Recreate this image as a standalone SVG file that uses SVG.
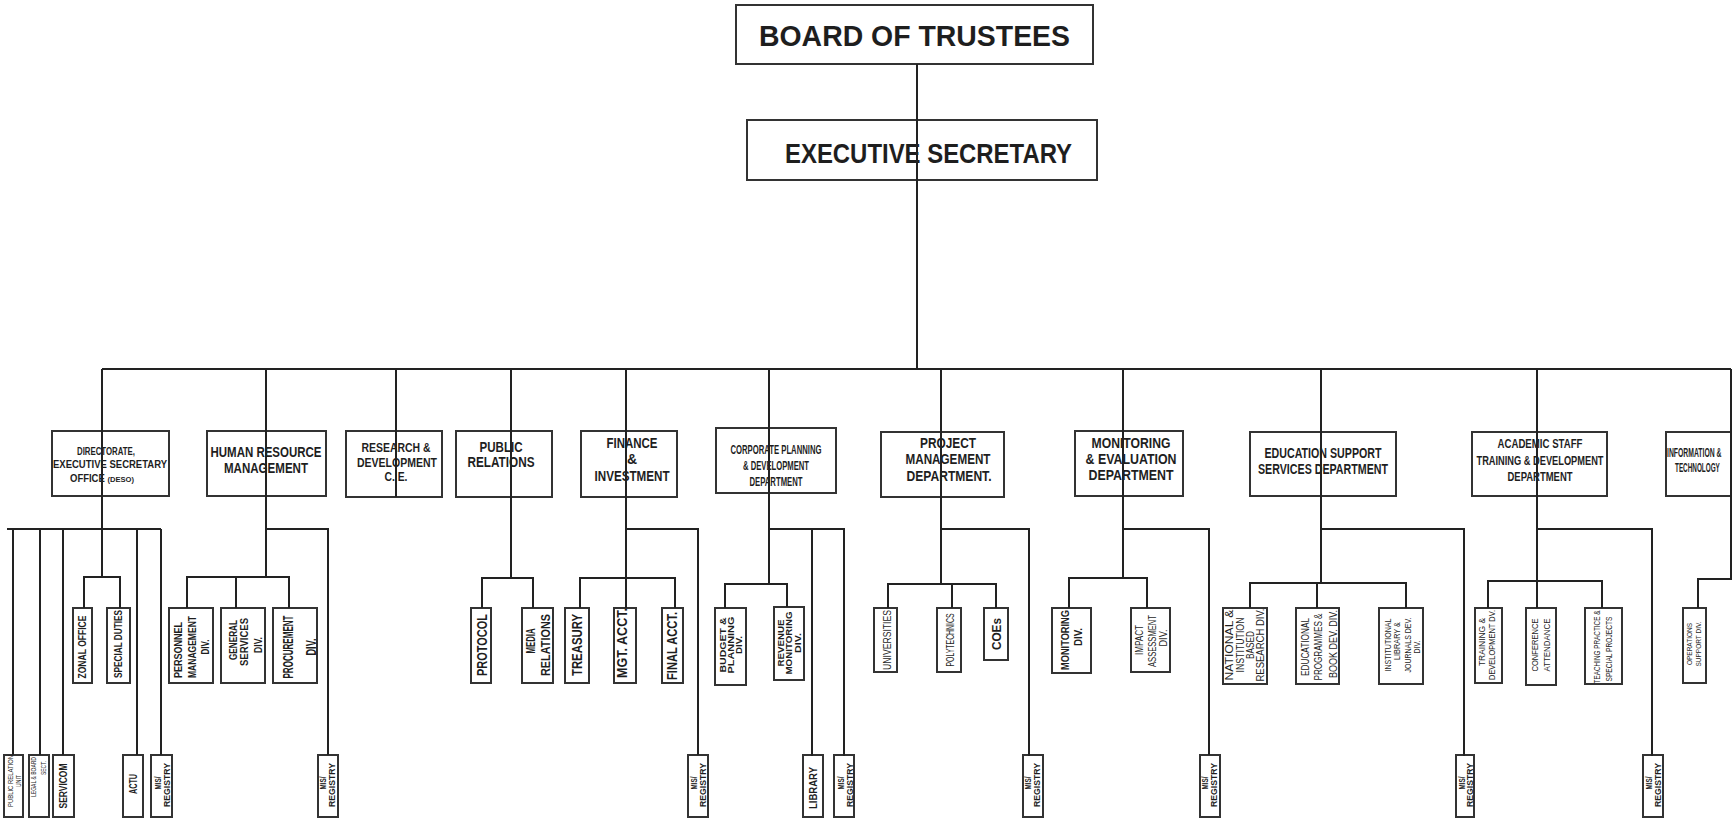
<svg xmlns="http://www.w3.org/2000/svg" width="1732" height="820" viewBox="0 0 1732 820">
<style>
.b{fill:#fff;stroke:#333;stroke-width:2}
.c{fill:none;stroke:#222;stroke-width:2}
text{font-family:"Liberation Sans",Arial,sans-serif;fill:#1e1e1e;text-anchor:middle}
.h{font-weight:bold}
.v{font-weight:bold}
.s{font-weight:normal}
</style>
<rect width="1732" height="820" fill="#fff"/>
<g id="board"><rect class="b" x="736" y="5" width="357" height="59"/><text class="h" x="914.5" y="46" font-size="29" textLength="311" lengthAdjust="spacingAndGlyphs">BOARD OF TRUSTEES</text></g>
<g id="exec"><rect class="b" x="747" y="120" width="350" height="60"/><text class="h" x="928.5" y="163" font-size="28" textLength="287" lengthAdjust="spacingAndGlyphs">EXECUTIVE SECRETARY</text></g>

<g id="deso"><rect class="b" x="52" y="431" width="117" height="65"/>
<text class="h" x="106" y="455" font-size="10" textLength="58" lengthAdjust="spacingAndGlyphs">DIRECTORATE,</text>
<text class="h" x="110" y="468" font-size="10" textLength="114" lengthAdjust="spacingAndGlyphs">EXECUTIVE  SECRETARY</text>
<text class="h" x="102" y="482" font-size="10" textLength="64" lengthAdjust="spacingAndGlyphs">OFFICE <tspan font-size="8">(DESO)</tspan></text></g>
<g id="hr"><rect class="b" x="207" y="431" width="119" height="65"/>
<text class="h" x="266" y="457" font-size="15" textLength="111" lengthAdjust="spacingAndGlyphs">HUMAN RESOURCE</text>
<text class="h" x="266" y="473" font-size="15" textLength="84" lengthAdjust="spacingAndGlyphs">MANAGEMENT</text></g>
<g id="rd"><rect class="b" x="346" y="431" width="96" height="66"/>
<text class="h" x="396" y="452" font-size="12.5" textLength="69" lengthAdjust="spacingAndGlyphs">RESEARCH &amp;</text>
<text class="h" x="397" y="467" font-size="12.5" textLength="80" lengthAdjust="spacingAndGlyphs">DEVELOPMENT</text>
<text class="h" x="396" y="481" font-size="12.5" textLength="23" lengthAdjust="spacingAndGlyphs">C. E.</text></g>
<g id="pr"><rect class="b" x="456" y="431" width="96" height="66"/>
<text class="h" x="501" y="452" font-size="14.5" textLength="43" lengthAdjust="spacingAndGlyphs">PUBLIC</text>
<text class="h" x="501" y="467" font-size="14.5" textLength="67" lengthAdjust="spacingAndGlyphs">RELATIONS</text></g>
<g id="fin"><rect class="b" x="581" y="431" width="96" height="66"/>
<text class="h" x="632" y="448" font-size="14" textLength="51" lengthAdjust="spacingAndGlyphs">FINANCE</text>
<text class="h" x="632" y="464" font-size="14">&amp;</text>
<text class="h" x="632" y="481" font-size="14" textLength="75" lengthAdjust="spacingAndGlyphs">INVESTMENT</text></g>
<g id="corp"><rect class="b" x="716" y="428" width="120" height="65"/>
<text class="h" x="776" y="454" font-size="12.5" textLength="91" lengthAdjust="spacingAndGlyphs">CORPORATE PLANNING</text>
<text class="h" x="776" y="470" font-size="12.5" textLength="66" lengthAdjust="spacingAndGlyphs">&amp; DEVELOPMENT</text>
<text class="h" x="776" y="486" font-size="12.5" textLength="53" lengthAdjust="spacingAndGlyphs">DEPARTMENT</text></g>
<g id="pm"><rect class="b" x="881" y="432" width="123" height="65"/>
<text class="h" x="948" y="448" font-size="15" textLength="56" lengthAdjust="spacingAndGlyphs">PROJECT</text>
<text class="h" x="948" y="464" font-size="15" textLength="85" lengthAdjust="spacingAndGlyphs">MANAGEMENT</text>
<text class="h" x="949" y="481" font-size="15" textLength="85" lengthAdjust="spacingAndGlyphs">DEPARTMENT.</text></g>
<g id="me"><rect class="b" x="1075" y="431" width="108" height="65"/>
<text class="h" x="1131" y="448" font-size="15" textLength="79" lengthAdjust="spacingAndGlyphs">MONITORING</text>
<text class="h" x="1131" y="464" font-size="15" textLength="91" lengthAdjust="spacingAndGlyphs">&amp; EVALUATION</text>
<text class="h" x="1131" y="480" font-size="15" textLength="85" lengthAdjust="spacingAndGlyphs">DEPARTMENT</text></g>
<g id="ess"><rect class="b" x="1250" y="432" width="146" height="64"/>
<text class="h" x="1323" y="458" font-size="14" textLength="117" lengthAdjust="spacingAndGlyphs">EDUCATION SUPPORT</text>
<text class="h" x="1323" y="474" font-size="14" textLength="130" lengthAdjust="spacingAndGlyphs">SERVICES DEPARTMENT</text></g>
<g id="astd"><rect class="b" x="1472" y="432" width="135" height="64"/>
<text class="h" x="1540" y="448" font-size="13.5" textLength="85" lengthAdjust="spacingAndGlyphs">ACADEMIC STAFF</text>
<text class="h" x="1540" y="465" font-size="13.5" textLength="127" lengthAdjust="spacingAndGlyphs">TRAINING &amp; DEVELOPMENT</text>
<text class="h" x="1540" y="481" font-size="13.5" textLength="65" lengthAdjust="spacingAndGlyphs">DEPARTMENT</text></g>
<g id="it"><rect class="b" x="1666" y="432" width="65" height="64"/>
<text class="h" transform="translate(1667,457) scale(0.57,1)" font-size="12" style="text-anchor:start">INFORMATION &amp;</text>
<text class="h" transform="translate(1675,472) scale(0.53,1)" font-size="12" style="text-anchor:start">TECHNOLOGY</text></g>

<g id="zonal"><rect class="b" x="73" y="608" width="19" height="75"/><text class="v" transform="translate(86.4,647) rotate(-90)" font-size="11" textLength="63" lengthAdjust="spacingAndGlyphs">ZONAL OFFICE</text></g>
<g id="special"><rect class="b" x="107" y="608" width="23" height="75"/><text class="v" transform="translate(122.4,644) rotate(-90)" font-size="11" textLength="68" lengthAdjust="spacingAndGlyphs">SPECIAL DUTIES</text></g>
<g id="pubrelunit"><rect class="b" x="4" y="755" width="19" height="62"/>
<text class="s" transform="translate(12.5,781) rotate(-90)" font-size="7" textLength="52" lengthAdjust="spacingAndGlyphs">PUBLIC RELATION</text>
<text class="s" transform="translate(20.5,781) rotate(-90)" font-size="7" textLength="12" lengthAdjust="spacingAndGlyphs">UNIT</text></g>
<g id="legal"><rect class="b" x="29" y="755" width="20" height="62"/>
<text class="s" transform="translate(36,777) rotate(-90)" font-size="7.5" textLength="40" lengthAdjust="spacingAndGlyphs">LEGAL &amp; BOARD</text>
<text class="s" transform="translate(45.6,768) rotate(-90)" font-size="7.5" textLength="14" lengthAdjust="spacingAndGlyphs">SECT.</text></g>
<g id="servicom"><rect class="b" x="53" y="755" width="21" height="62"/><text class="v" transform="translate(67,786) rotate(-90)" font-size="10" textLength="45" lengthAdjust="spacingAndGlyphs">SERVICOM</text></g>
<g id="actu"><rect class="b" x="123" y="755" width="20" height="62"/><text class="v" transform="translate(136.5,784) rotate(-90)" font-size="10" textLength="20" lengthAdjust="spacingAndGlyphs">ACTU</text></g>
<g id="deso-mis"><rect class="b" x="151" y="755" width="21" height="62"/>
<text class="v" transform="translate(161,783) rotate(-90)" font-size="9" textLength="13" lengthAdjust="spacingAndGlyphs">MIS/</text>
<text class="v" transform="translate(169.5,785) rotate(-90)" font-size="9" textLength="44" lengthAdjust="spacingAndGlyphs">REGISTRY</text></g>

<g id="personnel"><rect class="b" x="169" y="608" width="44" height="75"/>
<text class="v" transform="translate(181.5,650) rotate(-90)" font-size="10" textLength="56" lengthAdjust="spacingAndGlyphs">PERSONNEL</text>
<text class="v" transform="translate(195.5,647) rotate(-90)" font-size="10" textLength="62" lengthAdjust="spacingAndGlyphs">MANAGEMENT</text>
<text class="v" transform="translate(208.5,647) rotate(-90)" font-size="10" textLength="15" lengthAdjust="spacingAndGlyphs">DIV.</text></g>
<g id="general"><rect class="b" x="221" y="608" width="44" height="75"/>
<text class="v" transform="translate(236.5,640) rotate(-90)" font-size="10" textLength="40" lengthAdjust="spacingAndGlyphs">GENERAL</text>
<text class="v" transform="translate(247.5,642) rotate(-90)" font-size="10" textLength="48" lengthAdjust="spacingAndGlyphs">SERVICES</text>
<text class="v" transform="translate(261.5,645) rotate(-90)" font-size="10" textLength="16" lengthAdjust="spacingAndGlyphs">DIV.</text></g>
<g id="procurement"><rect class="b" x="273" y="608" width="44" height="75"/>
<text class="v" transform="translate(292.6,647) rotate(-90)" font-size="15" textLength="63" lengthAdjust="spacingAndGlyphs">PROCUREMENT</text>
<text class="v" transform="translate(315.5,647) rotate(-90)" font-size="15" textLength="17" lengthAdjust="spacingAndGlyphs">DIV.</text></g>
<g id="hr-mis"><rect class="b" x="318" y="755" width="20" height="62"/>
<text class="v" transform="translate(326,783) rotate(-90)" font-size="9" textLength="13" lengthAdjust="spacingAndGlyphs">MIS/</text>
<text class="v" transform="translate(335,785) rotate(-90)" font-size="9" textLength="44" lengthAdjust="spacingAndGlyphs">REGISTRY</text></g>

<g id="protocol"><rect class="b" x="471" y="608" width="20" height="75"/><text class="v" transform="translate(487,645) rotate(-90)" font-size="14" textLength="62" lengthAdjust="spacingAndGlyphs">PROTOCOL</text></g>
<g id="media"><rect class="b" x="522" y="608" width="31" height="75"/>
<text class="v" transform="translate(534.6,641) rotate(-90)" font-size="13" textLength="25" lengthAdjust="spacingAndGlyphs">MEDIA</text>
<text class="v" transform="translate(549.6,645) rotate(-90)" font-size="13" textLength="62" lengthAdjust="spacingAndGlyphs">RELATIONS</text></g>
<g id="treasury"><rect class="b" x="565" y="608" width="24" height="75"/><text class="v" transform="translate(582,645) rotate(-90)" font-size="14" textLength="62" lengthAdjust="spacingAndGlyphs">TREASURY</text></g>
<g id="mgtacct"><rect class="b" x="614" y="608" width="22" height="75"/><text class="v" transform="translate(627,643) rotate(-90)" font-size="14" textLength="70" lengthAdjust="spacingAndGlyphs">MGT. ACCT.</text></g>
<g id="finalacct"><rect class="b" x="662" y="608" width="21" height="75"/><text class="v" transform="translate(677,646) rotate(-90)" font-size="14" textLength="68" lengthAdjust="spacingAndGlyphs">FINAL ACCT.</text></g>
<g id="fin-mis"><rect class="b" x="688" y="755" width="20" height="62"/>
<text class="v" transform="translate(697,783) rotate(-90)" font-size="9" textLength="13" lengthAdjust="spacingAndGlyphs">MIS/</text>
<text class="v" transform="translate(706,785) rotate(-90)" font-size="9" textLength="44" lengthAdjust="spacingAndGlyphs">REGISTRY</text></g>

<g id="budget"><rect class="b" x="715" y="608" width="31" height="77"/>
<text class="v" transform="translate(726.4,645) rotate(-90)" font-size="9.5" textLength="55" lengthAdjust="spacingAndGlyphs">BUDGET &amp;</text>
<text class="v" transform="translate(734.4,645) rotate(-90)" font-size="9.5" textLength="57" lengthAdjust="spacingAndGlyphs">PLANNING</text>
<text class="v" transform="translate(742.4,645) rotate(-90)" font-size="9.5" textLength="18" lengthAdjust="spacingAndGlyphs">DIV.</text></g>
<g id="revenue"><rect class="b" x="774" y="607" width="30" height="73"/>
<text class="v" transform="translate(784.4,643) rotate(-90)" font-size="9.5" textLength="47" lengthAdjust="spacingAndGlyphs">REVENUE</text>
<text class="v" transform="translate(792.4,643) rotate(-90)" font-size="9.5" textLength="63" lengthAdjust="spacingAndGlyphs">MONITORING</text>
<text class="v" transform="translate(801.4,643) rotate(-90)" font-size="9.5" textLength="20" lengthAdjust="spacingAndGlyphs">DIV.</text></g>
<g id="library"><rect class="b" x="803" y="755" width="20" height="62"/><text class="v" transform="translate(817,788) rotate(-90)" font-size="11" textLength="42" lengthAdjust="spacingAndGlyphs">LIBRARY</text></g>
<g id="corp-mis"><rect class="b" x="834" y="755" width="20" height="62"/>
<text class="v" transform="translate(844,783) rotate(-90)" font-size="9" textLength="13" lengthAdjust="spacingAndGlyphs">MIS/</text>
<text class="v" transform="translate(852.5,785) rotate(-90)" font-size="9" textLength="44" lengthAdjust="spacingAndGlyphs">REGISTRY</text></g>

<g id="universities"><rect class="b" x="874" y="608" width="23" height="64"/><text class="s" transform="translate(891,640) rotate(-90)" font-size="11" textLength="60" lengthAdjust="spacingAndGlyphs">UNIVERSITIES</text></g>
<g id="polytechnics"><rect class="b" x="937" y="608" width="24" height="64"/><text class="s" transform="translate(953.5,640) rotate(-90)" font-size="10" textLength="53" lengthAdjust="spacingAndGlyphs">POLYTECHNICS</text></g>
<g id="coes"><rect class="b" x="984" y="608" width="24" height="52"/><text class="v" transform="translate(1000.6,634) rotate(-90)" font-size="13" textLength="32" lengthAdjust="spacingAndGlyphs">COEs</text></g>
<g id="pm-mis"><rect class="b" x="1023" y="755" width="20" height="62"/>
<text class="v" transform="translate(1031,783) rotate(-90)" font-size="9" textLength="13" lengthAdjust="spacingAndGlyphs">MIS/</text>
<text class="v" transform="translate(1040,785) rotate(-90)" font-size="9" textLength="44" lengthAdjust="spacingAndGlyphs">REGISTRY</text></g>

<g id="monitoring"><rect class="b" x="1052" y="608" width="39" height="65"/>
<text class="v" transform="translate(1069,640) rotate(-90)" font-size="11" textLength="60" lengthAdjust="spacingAndGlyphs">MONITORING</text>
<text class="v" transform="translate(1082,637) rotate(-90)" font-size="11" textLength="18" lengthAdjust="spacingAndGlyphs">DIV.</text></g>
<g id="impact"><rect class="b" x="1131" y="608" width="39" height="64"/>
<text class="s" transform="translate(1142.5,640) rotate(-90)" font-size="10" textLength="30" lengthAdjust="spacingAndGlyphs">IMPACT</text>
<text class="s" transform="translate(1155.5,641) rotate(-90)" font-size="10" textLength="52" lengthAdjust="spacingAndGlyphs">ASSESSMENT</text>
<text class="s" transform="translate(1166.5,638) rotate(-90)" font-size="10" textLength="17" lengthAdjust="spacingAndGlyphs">DIV.</text></g>
<g id="me-mis"><rect class="b" x="1200" y="755" width="20" height="62"/>
<text class="v" transform="translate(1208,783) rotate(-90)" font-size="9" textLength="13" lengthAdjust="spacingAndGlyphs">MIS/</text>
<text class="v" transform="translate(1217,785) rotate(-90)" font-size="9" textLength="44" lengthAdjust="spacingAndGlyphs">REGISTRY</text></g>

<g id="national"><rect class="b" x="1223" y="608" width="44" height="76"/>
<text class="s" transform="translate(1232.5,645) rotate(-90)" font-size="10" textLength="71" lengthAdjust="spacingAndGlyphs">NATIONAL &amp;</text>
<text class="s" transform="translate(1243.5,645) rotate(-90)" font-size="10" textLength="55" lengthAdjust="spacingAndGlyphs">INSTITUTION</text>
<text class="s" transform="translate(1253.5,645) rotate(-90)" font-size="10" textLength="28" lengthAdjust="spacingAndGlyphs">BASED</text>
<text class="s" transform="translate(1263.5,645) rotate(-90)" font-size="10" textLength="73" lengthAdjust="spacingAndGlyphs">RESEARCH DIV.</text></g>
<g id="educational"><rect class="b" x="1296" y="608" width="43" height="76"/>
<text class="s" transform="translate(1308.7,647) rotate(-90)" font-size="10.5" textLength="58" lengthAdjust="spacingAndGlyphs">EDUCATIONAL</text>
<text class="s" transform="translate(1321.7,647) rotate(-90)" font-size="10.5" textLength="67" lengthAdjust="spacingAndGlyphs">PROGRAMMES &amp;</text>
<text class="s" transform="translate(1336.7,644) rotate(-90)" font-size="10.5" textLength="68" lengthAdjust="spacingAndGlyphs">BOOK DEV. DIV.</text></g>
<g id="institutional"><rect class="b" x="1379" y="608" width="44" height="76"/>
<text class="s" transform="translate(1391.2,645) rotate(-90)" font-size="9" textLength="53" lengthAdjust="spacingAndGlyphs">INSTITUTIONAL</text>
<text class="s" transform="translate(1400.2,641) rotate(-90)" font-size="9" textLength="38" lengthAdjust="spacingAndGlyphs">LIBRARY &amp;</text>
<text class="s" transform="translate(1410.8,645) rotate(-90)" font-size="9" textLength="55" lengthAdjust="spacingAndGlyphs">JOURNALS DEV.</text>
<text class="s" transform="translate(1420.2,647) rotate(-90)" font-size="9" textLength="13" lengthAdjust="spacingAndGlyphs">DIV.</text></g>
<g id="ess-mis"><rect class="b" x="1456" y="755" width="18" height="62"/>
<text class="v" transform="translate(1465,783) rotate(-90)" font-size="9" textLength="13" lengthAdjust="spacingAndGlyphs">MIS/</text>
<text class="v" transform="translate(1472.5,785) rotate(-90)" font-size="9" textLength="44" lengthAdjust="spacingAndGlyphs">REGISTRY</text></g>

<g id="training"><rect class="b" x="1475" y="608" width="27" height="75"/>
<text class="s" transform="translate(1485,642) rotate(-90)" font-size="8.5" textLength="48" lengthAdjust="spacingAndGlyphs">TRAINING &amp;</text>
<text class="s" transform="translate(1495,645) rotate(-90)" font-size="8.5" textLength="70" lengthAdjust="spacingAndGlyphs">DEVELOPMENT DV.</text></g>
<g id="conference"><rect class="b" x="1526" y="608" width="30" height="77"/>
<text class="s" transform="translate(1538.4,645) rotate(-90)" font-size="9.5" textLength="53" lengthAdjust="spacingAndGlyphs">CONFERENCE</text>
<text class="s" transform="translate(1550.4,645) rotate(-90)" font-size="9.5" textLength="53" lengthAdjust="spacingAndGlyphs">ATTENDANCE</text></g>
<g id="teaching"><rect class="b" x="1585" y="608" width="37" height="76"/>
<text class="s" transform="translate(1600.4,647) rotate(-90)" font-size="9.5" textLength="73" lengthAdjust="spacingAndGlyphs">TEACHING PRACTICE &amp;</text>
<text class="s" transform="translate(1612.4,649) rotate(-90)" font-size="9.5" textLength="65" lengthAdjust="spacingAndGlyphs">SPECIAL PROJECTS</text></g>
<g id="astd-mis"><rect class="b" x="1643" y="755" width="20" height="62"/>
<text class="v" transform="translate(1652,783) rotate(-90)" font-size="9" textLength="13" lengthAdjust="spacingAndGlyphs">MIS/</text>
<text class="v" transform="translate(1660.5,785) rotate(-90)" font-size="9" textLength="44" lengthAdjust="spacingAndGlyphs">REGISTRY</text></g>
<g id="operations"><rect class="b" x="1683" y="608" width="23" height="75"/>
<text class="s" transform="translate(1691.5,644) rotate(-90)" font-size="7" textLength="42" lengthAdjust="spacingAndGlyphs">OPERATIONS</text>
<text class="s" transform="translate(1700.5,644) rotate(-90)" font-size="7" textLength="45" lengthAdjust="spacingAndGlyphs">SUPPORT DIV.</text></g>

<g id="connectors" class="c">
<path class="c" d="M917,64V369M102,369H1731"/>
<path class="c" d="M102,369V577M266,369V577M396,369V497M511,369V578M626,369V608M769,369V584M941,369V584M1123,369V578M1321,369V583M1537,369V608M1731,369V579H1698V608"/>
<path class="c" d="M7,529H161M13,529V755M40,529V755M63,529V755M137,529V755M161,529V755M84,608V577H120V608"/>
<path class="c" d="M266,529H328V755M187,608V577H289V608M236,577V608"/>
<path class="c" d="M482,608V578H533V608"/>
<path class="c" d="M626,529H698V755M580,608V578H675V608"/>
<path class="c" d="M769,529H844V756M812,529V756M725,608V584H787V607"/>
<path class="c" d="M941,529H1029V756M888,608V584H996V608M952,584V608"/>
<path class="c" d="M1123,529H1209V755M1069,608V578H1147V608"/>
<path class="c" d="M1321,529H1464V756M1250,608V583H1406V608M1317,583V608"/>
<path class="c" d="M1537,529H1652V756M1488,608V581H1602V608"/>
</g>
</svg>
